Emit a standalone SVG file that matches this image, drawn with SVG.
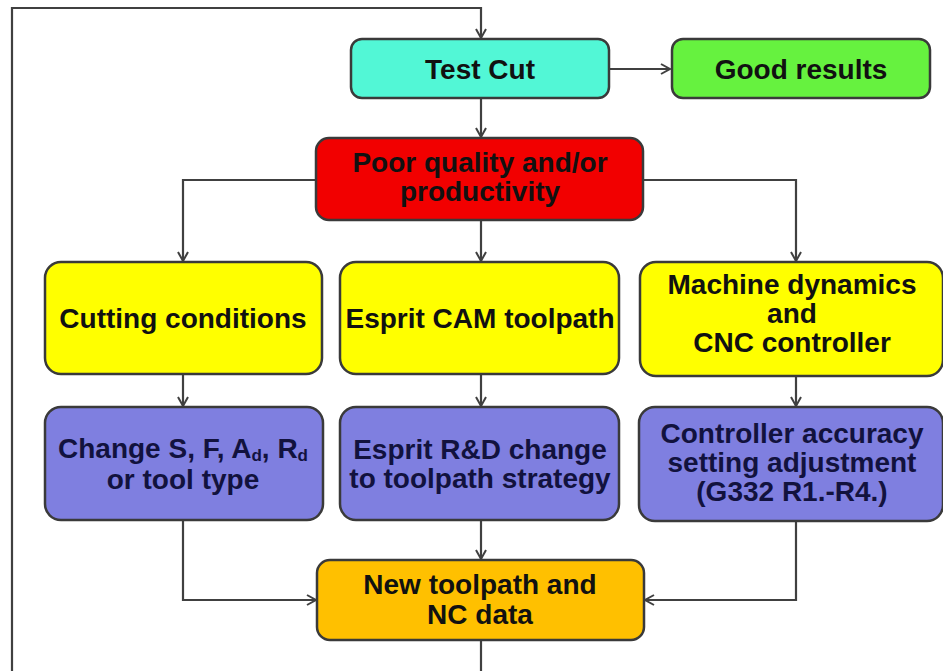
<svg xmlns="http://www.w3.org/2000/svg" width="943" height="671" viewBox="0 0 943 671">
<defs>
<marker id="arr" markerUnits="userSpaceOnUse" markerWidth="14" markerHeight="14" refX="10" refY="6" orient="auto">
<path d="M1,1 L10,6 L1,11" fill="none" stroke="#404040" stroke-width="2"/>
</marker>
<style>
.box{stroke:#3a3a3a;stroke-width:2.5}
.t{font-family:"Liberation Sans",Arial,sans-serif;font-weight:bold;font-size:28px;text-anchor:middle;fill:#111}
.tb{fill:#12123e}
.c{fill:none;stroke:#404040;stroke-width:2.2}
.sub{font-size:17px}
</style>
</defs>
<rect width="943" height="671" fill="#ffffff"/>
<g id="connectors">
<path class="c" d="M481,640 V690 H12 V8 H481 V38" marker-end="url(#arr)"/>
<path class="c" d="M609,69 H670" marker-end="url(#arr)"/>
<path class="c" d="M481,98 V137" marker-end="url(#arr)"/>
<path class="c" d="M316,180 H183 V261" marker-end="url(#arr)"/>
<path class="c" d="M481,220 V261" marker-end="url(#arr)"/>
<path class="c" d="M643,180 H796 V261" marker-end="url(#arr)"/>
<path class="c" d="M183,374 V406" marker-end="url(#arr)"/>
<path class="c" d="M481,374 V406" marker-end="url(#arr)"/>
<path class="c" d="M796,376 V406" marker-end="url(#arr)"/>
<path class="c" d="M183,520 V600 H316" marker-end="url(#arr)"/>
<path class="c" d="M481,520 V559" marker-end="url(#arr)"/>
<path class="c" d="M796,521 V600 H645" marker-end="url(#arr)"/>
</g>
<g id="test-cut">
<rect class="box" x="351" y="39" width="258" height="59" rx="11" fill="#52F7D6"/>
<text class="t" x="480" y="79">Test Cut</text>
</g>
<g id="good-results">
<rect class="box" x="672" y="39" width="258" height="59" rx="11" fill="#66F23F"/>
<text class="t" x="801" y="79">Good results</text>
</g>
<g id="poor-quality">
<rect class="box" x="316" y="138" width="327" height="82" rx="13" fill="#F20000"/>
<text class="t" x="480" y="172">Poor quality and/or</text>
<text class="t" x="480" y="201">productivity</text>
</g>
<g id="cutting-conditions">
<rect class="box" x="45" y="262" width="277" height="112" rx="16" fill="#FFFF00"/>
<text class="t" x="183" y="328">Cutting conditions</text>
</g>
<g id="esprit-cam">
<rect class="box" x="340" y="262" width="279" height="112" rx="16" fill="#FFFF00"/>
<text class="t" x="480" y="328">Esprit CAM toolpath</text>
</g>
<g id="machine-dynamics">
<rect class="box" x="640" y="262" width="303" height="114" rx="16" fill="#FFFF00"/>
<text class="t" x="792" y="294">Machine dynamics</text>
<text class="t" x="792" y="323">and</text>
<text class="t" x="792" y="352">CNC controller</text>
</g>
<g id="change-params">
<rect class="box" x="45" y="407" width="278" height="113" rx="16" fill="#7F7FE0"/>
<text class="t tb" x="183" y="458">Change S, F, A<tspan class="sub" dy="3">d</tspan><tspan dy="-3">,  R</tspan><tspan class="sub" dy="3">d</tspan></text>
<text class="t tb" x="183" y="489">or tool type</text>
</g>
<g id="esprit-rd">
<rect class="box" x="340" y="407" width="279" height="113" rx="16" fill="#7F7FE0"/>
<text class="t tb" x="480" y="459">Esprit R&amp;D change</text>
<text class="t tb" x="480" y="488">to toolpath strategy</text>
</g>
<g id="controller-accuracy">
<rect class="box" x="639" y="407" width="304" height="114" rx="16" fill="#7F7FE0"/>
<text class="t tb" x="792" y="443">Controller accuracy</text>
<text class="t tb" x="792" y="472">setting adjustment</text>
<text class="t tb" x="792" y="501">(G332 R1.-R4.)</text>
</g>
<g id="new-toolpath">
<rect class="box" x="317" y="560" width="327" height="80" rx="13" fill="#FFC000"/>
<text class="t" x="480" y="594">New toolpath and</text>
<text class="t" x="480" y="624">NC data</text>
</g>
</svg>
